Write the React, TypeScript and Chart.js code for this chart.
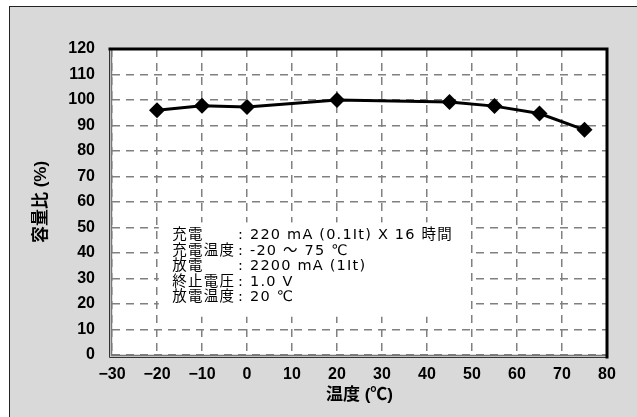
import { useEffect, useRef } from "react";
import { Chart, registerables } from "chart.js";

Chart.register(...registerables);

const temperatures = [-20, -10, 0, 20, 45, 55, 65, 75];
const capacityRatio = [96.0, 97.7, 97.3, 100.0, 99.2, 97.6, 94.7, 88.3];
const xRange = [-30, 80];
const yRange = [0, 120];
const conditionLabels = ["充電", "充電温度", "放電", "終止電圧", "放電温度"];
const conditionValues = [
  ": 220 mA (0.1It) X 16 時間",
  ": -20 ～ 75 ℃",
  ": 2200 mA (1It)",
  ": 1.0 V",
  ": 20 ℃",
];
const xTitle = "温度 (℃)";
const yTitle = "容量比 (%)";

const W = 637;
const H = 417;
const NOTE_FONT_SIZE = 14.5;
const NOTE_LINE = 15.5;

const framePlugin = {
  id: "frame",
  beforeDraw(chart: any) {
    const ctx = chart.ctx;
    const { left, top, right, bottom } = chart.chartArea;
    ctx.save();
    ctx.fillStyle = "#ffffff";
    ctx.fillRect(0, 0, W, H);
    ctx.fillStyle = "#d9d9d9";
    ctx.fillRect(9, 6, W, H);
    ctx.strokeStyle = "#222";
    ctx.lineWidth = 1;
    ctx.strokeRect(9.5, 6.5, W + 10, H + 10);
    ctx.fillStyle = "#ffffff";
    ctx.fillRect(left, top, right - left, bottom - top);
    ctx.restore();
  },
  beforeDatasetsDraw(chart: any) {
    const ctx = chart.ctx;
    const xs = chart.scales.x;
    const ys = chart.scales.y;
    const bl = xs.getPixelForValue(-19.6);
    const br = xs.getPixelForValue(49.7);
    const bt = ys.getPixelForValue(52);
    const bb = ys.getPixelForValue(15);
    ctx.save();
    ctx.fillStyle = "#ffffff";
    ctx.fillRect(bl, bt, br - bl, bb - bt);
    ctx.fillStyle = "#000";
    ctx.font = `${NOTE_FONT_SIZE}px "DejaVu Sans", "Noto Sans CJK JP", sans-serif`;
    try {
      (ctx as any).letterSpacing = "1.2px";
    } catch (e) {}
    ctx.textBaseline = "middle";
    ctx.textAlign = "left";
    const tx = xs.getPixelForValue(-16.6);
    const cx = tx + ctx.measureText("充電温度").width + 3;
    for (let i = 0; i < conditionLabels.length; i++) {
      const y = bt + 13 + i * NOTE_LINE;
      ctx.fillText(conditionLabels[i], tx, y);
      ctx.fillText(conditionValues[i], cx, y);
    }
    ctx.restore();
  },
  afterDraw(chart: any) {
    const ctx = chart.ctx;
    const { left, top, right, bottom } = chart.chartArea;
    ctx.save();
    ctx.lineCap = "square";
    ctx.strokeStyle = "#777";
    ctx.lineWidth = 1.5;
    ctx.beginPath();
    ctx.moveTo(left - 0.5, top);
    ctx.lineTo(left - 0.5, bottom + 0.5);
    ctx.lineTo(right, bottom + 0.5);
    ctx.stroke();
    ctx.strokeStyle = "#333";
    ctx.lineWidth = 1;
    ctx.beginPath();
    ctx.moveTo(left - 2.5, top);
    ctx.lineTo(left - 2.5, bottom + 2.5);
    ctx.lineTo(right, bottom + 2.5);
    ctx.stroke();
    ctx.strokeStyle = "#000";
    ctx.lineWidth = 3;
    ctx.beginPath();
    ctx.moveTo(left - 2, top);
    ctx.lineTo(right, top);
    ctx.lineTo(right, bottom + 2);
    ctx.stroke();
    ctx.restore();
  },
};

export default function App() {
  const ref = useRef<HTMLCanvasElement | null>(null);
  useEffect(() => {
    if (!ref.current) return;
    const tickFont = { family: '"Liberation Sans", Arial, sans-serif', size: 16, weight: "bold" as const };
    const titleFont = { family: '"Liberation Sans", "Noto Sans CJK JP", sans-serif', size: 17, weight: "bold" as const };
    const chart = new Chart(ref.current, {
      type: "line",
      data: {
        datasets: [
          {
            data: temperatures.map((t, i) => ({ x: t, y: capacityRatio[i] })),
            borderColor: "#000",
            backgroundColor: "#000",
            borderWidth: 3,
            pointStyle: "rectRot",
            pointRadius: 8,
            pointBorderWidth: 0,
            pointBackgroundColor: "#000",
            tension: 0,
          },
        ],
      },
      options: {
        responsive: false,
        animation: false,
        devicePixelRatio: 1,
        layout: { padding: { top: 49, right: 30, left: 0, bottom: 0 } },
        plugins: { legend: { display: false }, tooltip: { enabled: false } },
        scales: {
          x: {
            type: "linear",
            min: xRange[0],
            max: xRange[1],
            afterFit(scale: any) {
              scale.height = 62;
            },
            ticks: {
              stepSize: 10,
              color: "#000",
              font: tickFont,
              padding: 10,
              maxRotation: 0,
              callback: (v: any) => String(v).replace("-", "−"),
            },
            grid: { color: "#808080", lineWidth: 1.5, drawTicks: false },
            border: { display: false, dash: [8, 6] },
            title: { display: true, text: xTitle, color: "#000", font: titleFont, padding: { top: 0, bottom: 11 } },
          },
          y: {
            type: "linear",
            min: yRange[0],
            max: yRange[1],
            afterFit(scale: any) {
              scale.width = 112;
            },
            ticks: { stepSize: 10, color: "#000", font: tickFont, padding: 17 },
            grid: { color: "#808080", lineWidth: 1.5, drawTicks: false },
            border: { display: false, dash: [8, 6] },
            title: { display: true, text: yTitle, color: "#000", font: titleFont, padding: { top: 31, bottom: 0 } },
          },
        },
      },
      plugins: [framePlugin],
    });
    return () => chart.destroy();
  }, []);
  return (
    <div style={{ position: "absolute", left: 0, top: 0, width: W, height: H }}>
      <canvas ref={ref} width={W} height={H} style={{ width: W, height: H, display: "block" }} />
    </div>
  );
}
